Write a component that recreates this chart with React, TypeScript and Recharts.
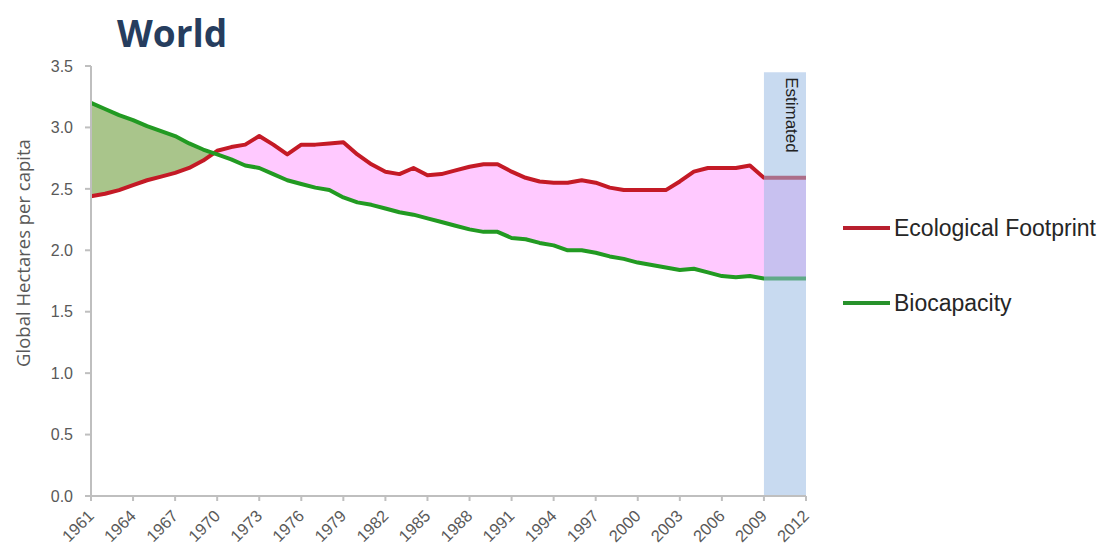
import React from 'react';
import { ComposedChart, Area, Line, XAxis, YAxis, ReferenceArea } from 'recharts';

const years = [
  1961, 1962, 1963, 1964, 1965, 1966, 1967, 1968, 1969, 1970,
  1971, 1972, 1973, 1974, 1975, 1976, 1977, 1978, 1979, 1980,
  1981, 1982, 1983, 1984, 1985, 1986, 1987, 1988, 1989, 1990,
  1991, 1992, 1993, 1994, 1995, 1996, 1997, 1998, 1999, 2000,
  2001, 2002, 2003, 2004, 2005, 2006, 2007, 2008, 2009, 2010,
  2011, 2012,
];

const footprint = [
  2.44, 2.46, 2.49, 2.53, 2.57, 2.60, 2.63, 2.67, 2.73, 2.81,
  2.84, 2.86, 2.93, 2.86, 2.78, 2.86, 2.86, 2.87, 2.88, 2.78,
  2.70, 2.64, 2.62, 2.67, 2.61, 2.62, 2.65, 2.68, 2.70, 2.70,
  2.64, 2.59, 2.56, 2.55, 2.55, 2.57, 2.55, 2.51, 2.49, 2.49,
  2.49, 2.49, 2.56, 2.64, 2.67, 2.67, 2.67, 2.69, 2.59, 2.59,
  2.59, 2.59,
];

const biocapacity = [
  3.20, 3.15, 3.10, 3.06, 3.01, 2.97, 2.93, 2.87, 2.82, 2.78,
  2.74, 2.69, 2.67, 2.62, 2.57, 2.54, 2.51, 2.49, 2.43, 2.39,
  2.37, 2.34, 2.31, 2.29, 2.26, 2.23, 2.20, 2.17, 2.15, 2.15,
  2.10, 2.09, 2.06, 2.04, 2.00, 2.00, 1.98, 1.95, 1.93, 1.90,
  1.88, 1.86, 1.84, 1.85, 1.82, 1.79, 1.78, 1.79, 1.77, 1.77,
  1.77, 1.77,
];

const xTicks = [1961, 1964, 1967, 1970, 1973, 1976, 1979, 1982, 1985, 1988, 1991, 1994, 1997, 2000, 2003, 2006, 2009, 2012];
const yTicks = [0, 0.5, 1.0, 1.5, 2.0, 2.5, 3.0, 3.5];
const estimatedStart = 2009;
const estimatedEnd = 2012;
const estimatedTop = 3.45;

const seriesNames = ['Ecological Footprint', 'Biocapacity'];
const RED = '#c41a26';
const GREEN = '#229a22';
const RESERVE_FILL = '#a9c58b';
const DEFICIT_FILL = '#ffc9ff';

const data = years.map((year, i) => ({
  year,
  ef: footprint[i],
  bc: biocapacity[i],
  gap: [footprint[i], biocapacity[i]],
}));

function crossingOffset(): number {
  const first = years[0];
  const last = years[years.length - 1];
  for (let i = 0; i < years.length - 1; i++) {
    const d0 = biocapacity[i] - footprint[i];
    const d1 = biocapacity[i + 1] - footprint[i + 1];
    if (d0 > 0 && d1 <= 0) {
      const t = d0 / (d0 - d1);
      const xc = years[i] + t * (years[i + 1] - years[i]);
      return (xc - first) / (last - first);
    }
  }
  return 0;
}

const cross = crossingOffset();

const XTick = (props: any) => {
  const { x, y, payload } = props;
  return (
    <g transform={`translate(${x + 4},${y + 14})`}>
      <text
        x={0}
        y={0}
        textAnchor="end"
        transform="rotate(-45)"
        fontSize={16.5}
        fontFamily="Liberation Sans, Arial, sans-serif"
        fill="#595959"
      >
        {payload.value}
      </text>
    </g>
  );
};

const EstLabel = (props: any) => {
  const vb = props.viewBox || {};
  const x = vb.x + vb.width / 2 + 1;
  const y = vb.y + 5;
  return (
    <text
      transform={`translate(${x},${y}) rotate(90)`}
      fontSize={17}
      fontFamily="Liberation Sans, Arial, sans-serif"
      fill="#222"
    >
      Estimated
    </text>
  );
};

export default function App() {
  return (
    <div style={{ position: 'relative', width: 1099, height: 543 }}>
      <div
        style={{
          position: 'absolute',
          left: 109,
          top: 2,
          fontFamily: 'Open Sans, sans-serif',
          fontWeight: 700,
          fontSize: 37,
          lineHeight: '46px',
          color: '#263d5e',
        }}
      >
        World
      </div>
      <div
        style={{
          position: 'absolute',
          left: 14,
          top: 245,
          width: 0,
          height: 0,
        }}
      >
        <div
          style={{
            position: 'absolute',
            transform: 'translate(-50%, -50%) rotate(-90deg)',
            whiteSpace: 'nowrap',
            fontFamily: 'Open Sans, sans-serif',
            fontSize: 18.5,
            color: '#595959',
          }}
        >
          Global Hectares per capita
        </div>
      </div>
      <ComposedChart
        width={1099}
        height={543}
        data={data}
        margin={{ top: 58, right: 301, left: 23, bottom: 5 }}
      >
        <defs>
          <linearGradient id="gapFill" x1="0" y1="0" x2="1" y2="0">
            <stop offset={0} stopColor={RESERVE_FILL} />
            <stop offset={cross} stopColor={RESERVE_FILL} />
            <stop offset={cross} stopColor={DEFICIT_FILL} />
            <stop offset={1} stopColor={DEFICIT_FILL} />
          </linearGradient>
        </defs>
        <XAxis
          type="number"
          dataKey="year"
          domain={[1961, 2012]}
          ticks={xTicks}
          interval={0}
          height={50}
          stroke="#bfbfbf"
          strokeWidth={2}
          tickSize={5}
          tick={<XTick />}
        />
        <YAxis
          type="number"
          domain={[0, 3.5]}
          ticks={yTicks}
          interval={0}
          width={60}
          stroke="#bfbfbf"
          strokeWidth={2}
          tickSize={6}
          tickMargin={12}
          tickFormatter={(v: number) => v.toFixed(1)}
          tick={{ fontSize: 16, fill: '#595959', fontFamily: 'Liberation Sans, Arial, sans-serif' }}
        />
        <Area
          dataKey="gap"
          type="linear"
          stroke="none"
          fill="url(#gapFill)"
          fillOpacity={1}
          isAnimationActive={false}
          activeDot={false}
        />
        <Line
          dataKey="ef"
          name={seriesNames[0]}
          type="linear"
          stroke={RED}
          strokeWidth={4}
          dot={false}
          activeDot={false}
          strokeLinejoin="round"
          isAnimationActive={false}
        />
        <Line
          dataKey="bc"
          name={seriesNames[1]}
          type="linear"
          stroke={GREEN}
          strokeWidth={4}
          dot={false}
          activeDot={false}
          strokeLinejoin="round"
          isAnimationActive={false}
        />
        <ReferenceArea
          x1={estimatedStart}
          x2={estimatedEnd}
          y1={0}
          y2={estimatedTop}
          fill="#97b9e2"
          fillOpacity={0.53}
          stroke="none"
          zIndex={450}
          label={<EstLabel />}
        />
      </ComposedChart>
      {seriesNames.map((name, i) => (
        <div
          key={name}
          style={{
            position: 'absolute',
            left: 835,
            top: i === 0 ? 205 : 280,
            display: 'flex',
            alignItems: 'center',
            height: 30,
          }}
        >
          <div style={{ width: 47, height: 4, background: i === 0 ? '#b8202e' : '#27922b', marginRight: 4 }} />
          <span
            style={{
              fontFamily: 'Liberation Sans, Arial, sans-serif',
              fontSize: 23,
              color: '#262626',
              whiteSpace: 'nowrap',
            }}
          >
            {name}
          </span>
        </div>
      ))}
    </div>
  );
}
